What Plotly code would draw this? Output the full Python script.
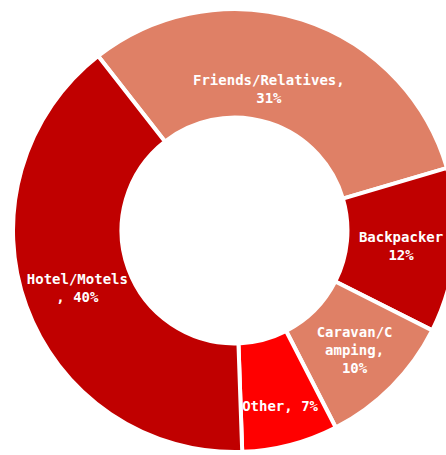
import math
import plotly.graph_objects as go

labels = ["Friends/Relatives", "Backpacker", "Caravan/Camping", "Other", "Hotel/Motels"]
values = [31, 12, 10, 7, 40]
texts = ["Friends/Relatives,<br>31%", "Backpacker<br>12%", "Caravan/C<br>amping,<br>10%", "Other, 7%", "Hotel/Motels<br>, 40%"]
colors = ["#DF8066", "#C00000", "#DF8066", "#FF0000", "#C00000"]

ROTATION = -38
HOLE = 0.51
font = dict(family="DejaVu Sans Mono", size=14, color="white", weight="bold")

# First slice's label is placed as an annotation at its mid-angle (data-derived)
positions = ["none"] + ["inside"] * (len(values) - 1)

fig = go.Figure(go.Pie(
    labels=labels, values=values, text=texts,
    textinfo="text", textposition=positions, insidetextorientation="horizontal",
    hole=HOLE, sort=False, direction="clockwise", rotation=ROTATION,
    marker=dict(colors=colors, line=dict(color="white", width=4)),
    textfont=font,
    showlegend=False, hoverinfo="label+percent",
))

total = sum(values)
mid_deg = ROTATION + 360 * values[0] / total / 2
theta = math.radians(mid_deg)
r_frac = 0.67
fig.add_annotation(
    x=0.5 + 0.5 * r_frac * math.sin(theta) - 0.025,
    y=0.5 + 0.5 * r_frac * math.cos(theta),
    xref="paper", yref="paper", text=texts[0], showarrow=False,
    xanchor="center", yanchor="middle",
    font=font, align="center",
)

fig.update_layout(
    width=456, height=455,
    margin=dict(l=13, r=0, t=9, b=3),
    paper_bgcolor="white", plot_bgcolor="white",
)
fig.write_html(
    "out.html",
    config={"displayModeBar": False},
    post_script="document.body.style.margin='0';document.body.style.overflow='hidden';",
)
